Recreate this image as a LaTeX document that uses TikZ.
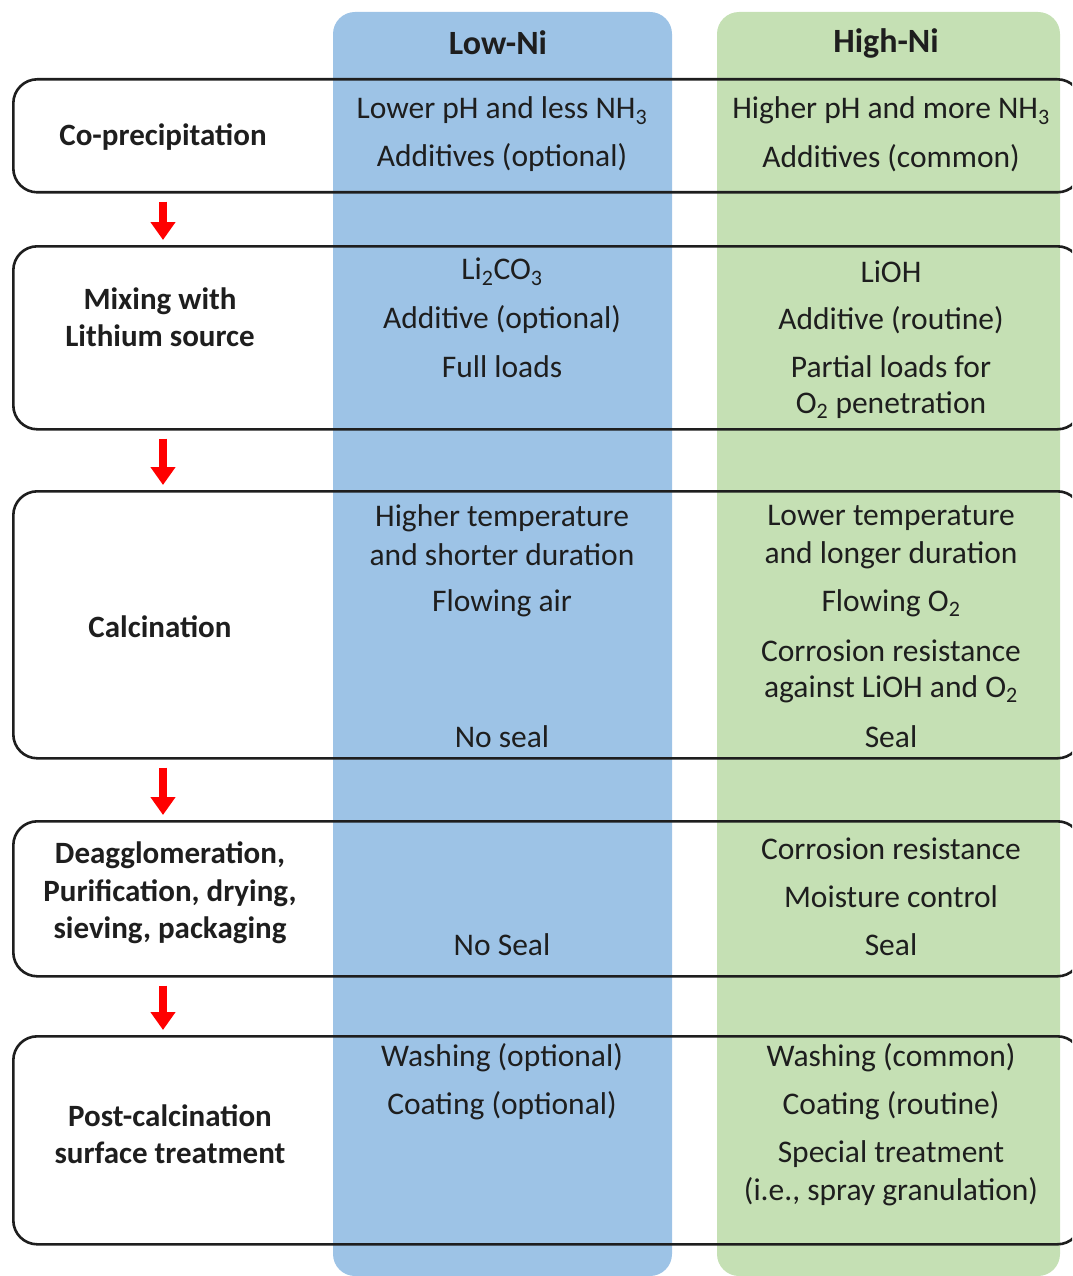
\documentclass[tikz,border=0pt]{standalone}
\usepackage{fontspec}
\setmainfont{Carlito}
\usetikzlibrary{arrows.meta}

\definecolor{lowni}{RGB}{157,195,230}
\definecolor{highni}{RGB}{197,224,180}
\definecolor{ink}{RGB}{30,30,30}

\tikzset{
  stagebox/.style={draw=ink, line width=2.6pt, rounded corners=24pt, anchor=north west,
    minimum width=1068pt, inner sep=0pt},
  stagelabel/.style={font=\fontsize{31}{37.5}\selectfont\bfseries, align=center, text=ink},
  entry/.style={font=\fontsize{31.5}{38}\selectfont, text=ink},
  head/.style={font=\fontsize{34}{40}\selectfont\bfseries, text=ink},
  flow/.style={draw=red, line width=8pt, -{Triangle[width=24pt,length=18pt]},
    shorten <=8pt, shorten >=5pt},
}

\begin{document}
\begin{tikzpicture}[x=1pt, y=-1pt]
		\def\lx{502};
		\def\hx{891};

		\useasboundingbox (0,0) rectangle (1072,1276);
		\clip (0,0) rectangle (1072,1276);

		% the two columns
		\fill [lowni, rounded corners=22pt] (333,12) rectangle (672,1276);
		\fill [highni, rounded corners=22pt] (717,12) rectangle (1060,1276);

		\node [head] (lowhead) at (498,43) {Low-Ni};
		\node [head] (highhead) at (886,43) {High-Ni};

		% process steps
		\node [stagebox, minimum height=113pt] (cop) at (12,78) {};
		\node [stagebox, minimum height=183pt] (mix) at (12,245) {};
		\node [stagebox, minimum height=267pt] (cal) at (12,490) {};
		\node [stagebox, minimum height=155pt] (dea) at (12,820) {};
		\node [stagebox, minimum height=208pt] (pct) at (12,1035) {};

		\node [stagelabel] (coplabel) at (163,137) {Co-precipitation};
		\node [stagelabel] (mixlabel) at (160,317) {Mixing with\\Lithium source};
		\node [stagelabel] (callabel) at (160,627) {Calcination};
		\node [stagelabel] (dealabel) at (170,893) {Deagglomeration,\\Purification, drying,\\sieving, packaging};
		\node [stagelabel] (pctlabel) at (170,1134) {Post-calcination\\surface treatment};

		\coordinate (arrx) at (163,0);
		\draw [flow] (cop.south -| arrx) -- (mix.north -| arrx);
		\draw [flow] (mix.south -| arrx) -- (cal.north -| arrx);
		\draw [flow] (cal.south -| arrx) -- (dea.north -| arrx);
		\draw [flow] (dea.south -| arrx) -- (pct.north -| arrx);

		% co-precipitation
		\node [entry] (cop1) at (\lx,111) {Lower pH and less NH\textsubscript{3}};
		\node [entry] (cop2) at (\lx,158) {Additives (optional)};
		\node [entry] (cop3) at (\hx,111) {Higher pH and more NH\textsubscript{3}};
		\node [entry] (cop4) at (\hx,158) {Additives (common)};

		% mixing
		\node [entry] (mix1) at (\lx,272) {Li\textsubscript{2}CO\textsubscript{3}};
		\node [entry] (mix2) at (\lx,320) {Additive (optional)};
		\node [entry] (mix3) at (\lx,367) {Full loads};
		\node [entry] (mix4) at (\hx,272) {LiOH};
		\node [entry] (mix5) at (\hx,320) {Additive (routine)};
		\node [entry] (mix6) at (\hx,367) {Partial loads for};
		\node [entry] (mix7) at (\hx,405) {O\textsubscript{2} penetration};

		% calcination
		\node [entry] (cal1) at (\lx,518) {Higher temperature};
		\node [entry] (cal2) at (\lx,555) {and shorter duration};
		\node [entry] (cal3) at (\lx,603) {Flowing air};
		\node [entry] (cal4) at (\lx,737) {No seal};
		\node [entry] (cal5) at (\hx,518) {Lower temperature};
		\node [entry] (cal6) at (\hx,555) {and longer duration};
		\node [entry] (cal7) at (\hx,603) {Flowing O\textsubscript{2}};
		\node [entry] (cal8) at (\hx,651) {Corrosion resistance};
		\node [entry] (cal9) at (\hx,689) {against LiOH and O\textsubscript{2}};
		\node [entry] (cal10) at (\hx,737) {Seal};

		% deagglomeration
		\node [entry] (dea1) at (\lx,945) {No Seal};
		\node [entry] (dea2) at (\hx,849) {Corrosion resistance};
		\node [entry] (dea3) at (\hx,897) {Moisture control};
		\node [entry] (dea4) at (\hx,945) {Seal};

		% post-calcination
		\node [entry] (pct1) at (\lx,1058) {Washing (optional)};
		\node [entry] (pct2) at (\lx,1106) {Coating (optional)};
		\node [entry] (pct3) at (\hx,1058) {Washing (common)};
		\node [entry] (pct4) at (\hx,1106) {Coating (routine)};
		\node [entry] (pct5) at (\hx,1154) {Special treatment};
		\node [entry] (pct6) at (\hx,1192) {(i.e., spray granulation)};
	\end{tikzpicture}
\end{document}
